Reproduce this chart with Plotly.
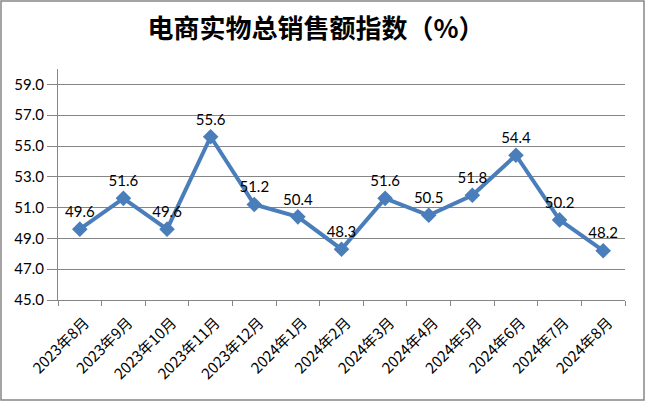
import plotly.graph_objects as go

categories = ["2023年8月", "2023年9月", "2023年10月", "2023年11月", "2023年12月",
              "2024年1月", "2024年2月", "2024年3月", "2024年4月", "2024年5月",
              "2024年6月", "2024年7月", "2024年8月"]
values = [49.6, 51.6, 49.6, 55.6, 51.2, 50.4, 48.3, 51.6, 50.5, 51.8, 54.4, 50.2, 48.2]
y_ticks = [45, 47, 49, 51, 53, 55, 57, 59]

W, H = 646, 402
ml, mr, mt, mb = 58, 21, 69, 102
pw, ph = W - ml - mr, H - mt - mb

num_font = "Lato, 'Noto Sans CJK SC', sans-serif"
cjk_font = "'Noto Sans CJK SC', Lato, sans-serif"

fig = go.Figure()
fig.add_trace(go.Scatter(
    x=categories, y=values, mode="lines+markers+text",
    line=dict(color="#4A7EBB", width=4),
    marker=dict(symbol="diamond", size=12, color="#4A7EBB"),
    text=[f"{v:.1f}" for v in values], textposition="top center",
    textfont=dict(family=num_font, size=15, color="#000000"),
    cliponaxis=False, showlegend=False,
))

def px_x(p):
    return (p - ml) / pw

def px_y(p):
    return (H - mb - p) / ph

fig.update_layout(
    width=W, height=H,
    margin=dict(l=ml, r=mr, t=mt, b=mb, autoexpand=False),
    paper_bgcolor="white", plot_bgcolor="white",
    title=dict(text="<b>电商实物总销售额指数（%）</b>", x=(155 + 477) / 2 / W, xanchor="center",
               y=1 - 29 / H, yanchor="middle",
               font=dict(family=cjk_font, size=26, color="#000000")),
    xaxis=dict(type="category", tickson="boundaries", ticks="outside", ticklen=5,
               tickcolor="#868686", showline=True, linecolor="#868686", linewidth=1,
               showgrid=False, tickangle=-45, automargin=False,
               ticklabelstandoff=7, ticklabelshift=5,
               tickfont=dict(family=cjk_font, size=15, color="#000000"),
               range=[-0.5, 12.5]),
    yaxis=dict(range=[45, 60], tickvals=y_ticks, tickformat=".1f",
               ticks="outside", ticklen=10, tickcolor="#868686",
               showline=True, linecolor="#868686", linewidth=1,
               showgrid=True, gridcolor="#868686", gridwidth=1,
               zeroline=False, automargin=False,
               tickfont=dict(family=num_font, size=15, color="#000000")),
    shapes=[dict(type="rect", xref="paper", yref="paper",
                 x0=px_x(1), x1=px_x(644), y0=px_y(400), y1=px_y(1),
                 line=dict(color="#868686", width=1.5), layer="below")],
)

fig.write_html("out.html", config={"displayModeBar": False},
               post_script="document.body.style.margin='0';document.body.style.overflow='hidden';")
